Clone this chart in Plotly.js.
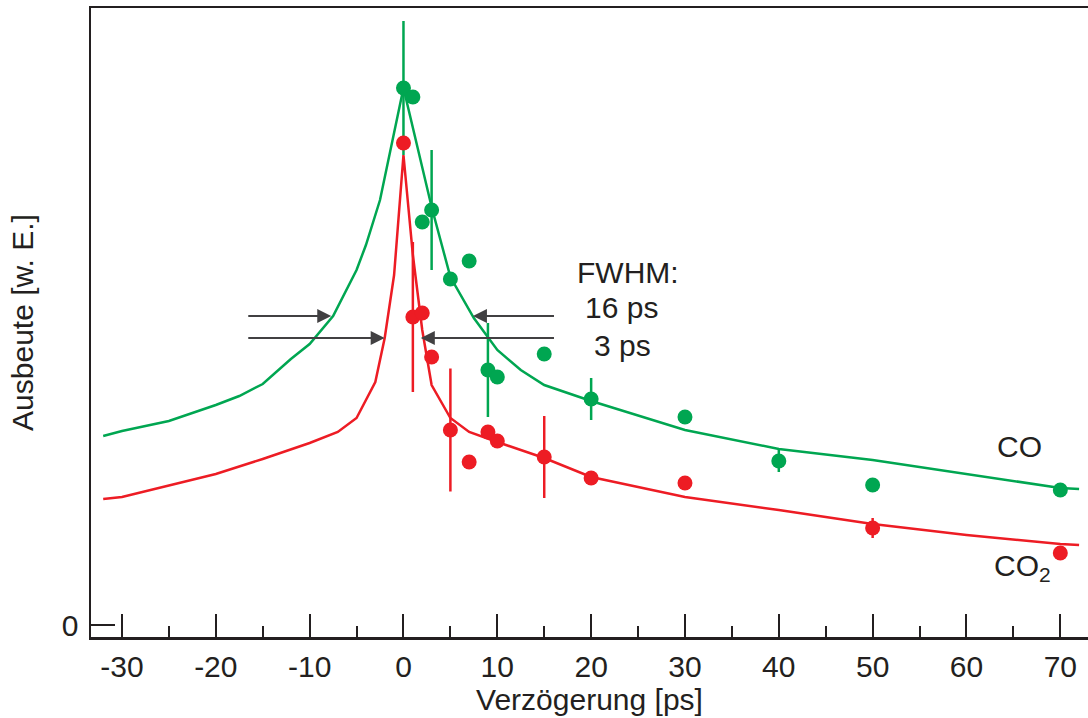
<!DOCTYPE html>
<html><head><meta charset="utf-8">
<script src="https://cdn.plot.ly/plotly-3.0.1.min.js"></script>
<style>html,body{margin:0;padding:0;background:#fff}#chart{width:1088px;height:718px}</style>
</head><body><div id="chart"></div>
<script>
// Measured points (CO, green)
const coX   = [0, 1, 2, 3, 5, 7, 9, 10, 15, 20, 30, 40, 50, 70];
const coY   = [5.37, 5.28, 4.03, 4.15, 3.46, 3.64, 2.55, 2.48, 2.71, 2.26, 2.08, 1.64, 1.40, 1.35];
const coErr = [0.67, 0, 0, 0.60, 0, 0, 0.47, 0, 0, 0.21, 0, 0.11, 0, 0];
// Measured points (CO2, red)
const co2X   = [0, 1, 2, 3, 5, 7, 9, 10, 15, 20, 30, 50, 70];
const co2Y   = [4.82, 3.08, 3.12, 2.68, 1.95, 1.63, 1.93, 1.84, 1.68, 1.47, 1.42, 0.97, 0.72];
const co2Err = [0, 0.75, 0, 0, 0.615, 0, 0, 0, 0.41, 0, 0, 0.10, 0];
// Fit curves
const coFitX = [-32, -30, -25, -20, -17.5, -15, -12, -10, -7.5, -5, -4, -2.5, 0, 3, 5, 7.5, 10, 12.5, 15, 20, 30, 40, 50, 70, 72];
const coFitY = [1.89, 1.94, 2.04, 2.20, 2.29, 2.41, 2.66, 2.81, 3.09, 3.55, 3.80, 4.25, 5.37, 4.18, 3.48, 3.07, 2.75, 2.55, 2.40, 2.24, 1.95, 1.76, 1.65, 1.37, 1.36];
const co2FitX = [-32, -30, -20, -15, -10, -7, -5, -3, -2, -1, 0, 1, 2, 3, 5, 7, 10, 15, 20, 30, 40, 50, 60, 70, 72];
const co2FitY = [1.26, 1.28, 1.51, 1.66, 1.82, 1.93, 2.07, 2.43, 2.87, 3.50, 4.70, 3.70, 2.95, 2.40, 2.07, 1.93, 1.83, 1.67, 1.48, 1.28, 1.15, 1.01, 0.90, 0.81, 0.80];
// Ticks
const xTickVals = [-30, -20, -10, 0, 10, 20, 30, 40, 50, 60, 70];
const xTickText = ["-30", "-20", "-10", "0", "10", "20", "30", "40", "50", "60", "70"];
const xMinorVals = [-25, -15, -5, 5, 15, 25, 35, 45, 55, 65];
const yTickVals = [0];
const yTickText = ["0"];

const GREEN = '#00a651', RED = '#ed1c24', AX = '#231f20', ARR = '#414042';
const FONT = 'Liberation Sans, Arial, Helvetica, sans-serif';

const traces = [
  {x: coFitX, y: coFitY, mode: 'lines', line: {color: GREEN, width: 2.5}, hoverinfo: 'skip'},
  {x: co2FitX, y: co2FitY, mode: 'lines', line: {color: RED, width: 2.5}, hoverinfo: 'skip'},
  {x: coX, y: coY, mode: 'markers', marker: {color: GREEN, size: 15},
   error_y: {type: 'data', array: coErr, visible: true, color: GREEN, thickness: 2.5, width: 0}},
  {x: co2X, y: co2Y, mode: 'markers', marker: {color: RED, size: 15},
   error_y: {type: 'data', array: co2Err, visible: true, color: RED, thickness: 2.5, width: 0}}
];

function arrow(tipX, tailX, y) {
  return {x: tipX, y: y, ax: tailX, ay: y, xref: 'x', yref: 'y', axref: 'x', ayref: 'y',
    text: '', showarrow: true, arrowhead: 2, arrowsize: 1.4, arrowwidth: 2, arrowcolor: ARR, standoff: 0};
}
function label(txt, x, y) {
  return {x: x, y: y, xref: 'x', yref: 'y', text: txt, showarrow: false,
    xanchor: 'center', yanchor: 'middle', font: {family: FONT, size: 30, color: AX}};
}

const layout = {
  width: 1088, height: 718,
  margin: {l: 91, r: 0, t: 8, b: 81},
  paper_bgcolor: '#fff', plot_bgcolor: '#fff',
  showlegend: false,
  font: {family: FONT, size: 30, color: AX},
  xaxis: {
    range: [-33.3, 72.95], showgrid: false, zeroline: false,
    showline: true, linecolor: AX, linewidth: 2.5, mirror: true,
    tickmode: 'array', tickvals: xTickVals, ticktext: xTickText,
    ticks: 'inside', ticklen: 23, tickwidth: 2, tickcolor: AX,
    tickfont: {family: FONT, size: 30, color: AX}, ticklabelstandoff: 1,
    minor: {tickmode: 'array', tickvals: xMinorVals, ticks: 'inside', ticklen: 11, tickwidth: 2, tickcolor: AX, showgrid: false},
    title: {text: 'Verzögerung [ps]', font: {family: FONT, size: 30, color: AX}, standoff: 6}
  },
  yaxis: {
    range: [-0.12, 6.17], showgrid: false, zeroline: false,
    showline: true, linecolor: AX, linewidth: 2.5, mirror: false,
    tickmode: 'array', tickvals: yTickVals, ticktext: yTickText,
    ticks: 'inside', ticklen: 24, tickwidth: 2, tickcolor: AX,
    tickfont: {family: FONT, size: 30, color: AX}, ticklabelstandoff: 4,
    title: {text: 'Ausbeute [w. E.]', font: {family: FONT, size: 30, color: AX}, standoff: 20}
  },
  annotations: [
    arrow(-7.7, -16.7, 3.09),
    arrow(7.4, 16.2, 3.09),
    arrow(-2.0, -16.7, 2.87),
    arrow(1.85, 16.2, 2.87),
    label('FWHM:', 23.95, 3.53),
    label('16 ps', 23.2, 3.18),
    label('3 ps', 23.3, 2.80),
    label('CO', 65.7, 1.79),
    label('CO<sub>2</sub>', 66.0, 0.58)
  ]
};

Plotly.newPlot('chart', traces, layout, {displayModeBar: false, staticPlot: true});
</script>
</body></html>
